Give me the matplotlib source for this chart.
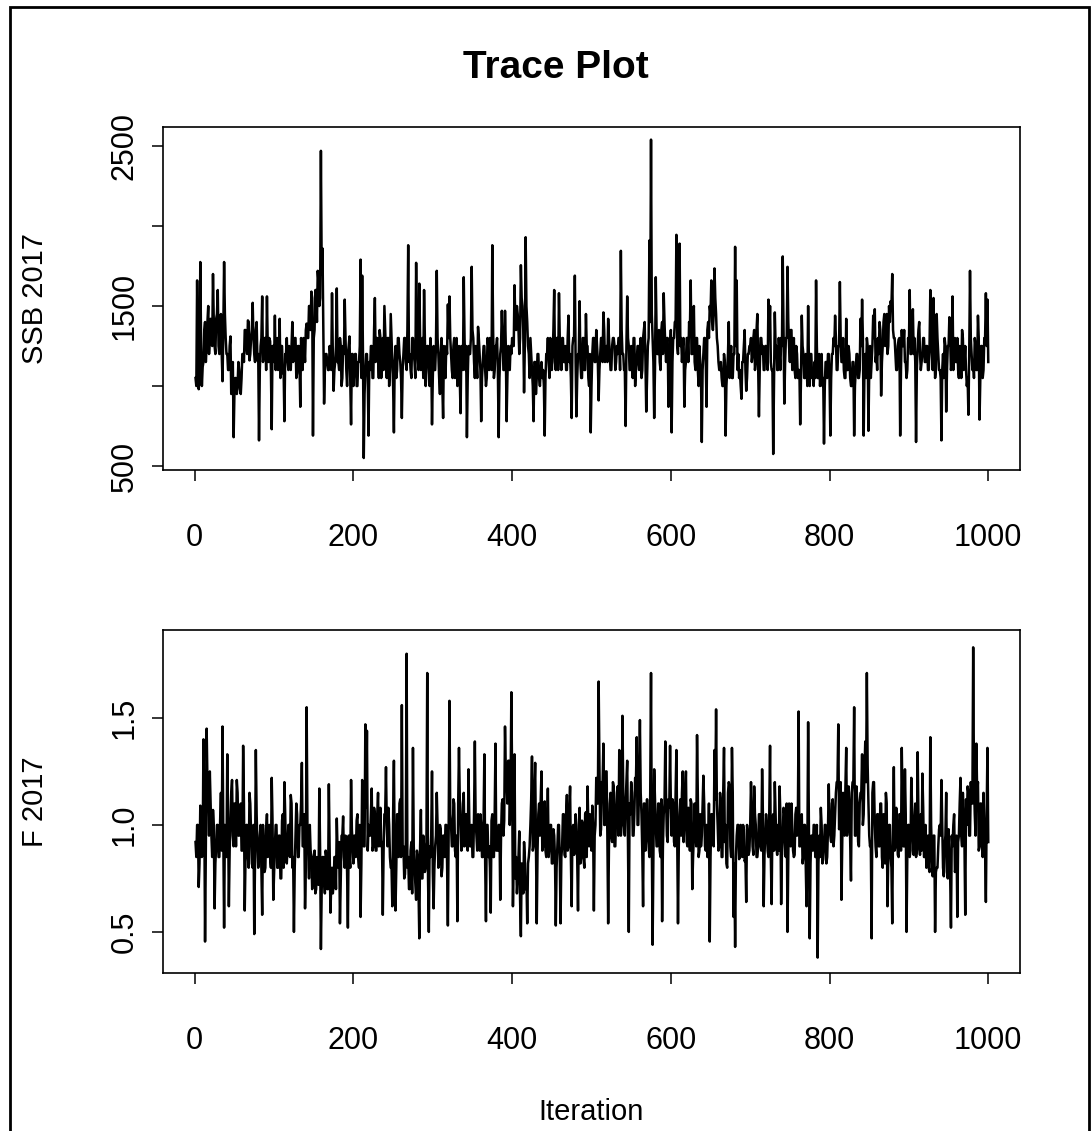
import numpy as np
import matplotlib
matplotlib.use("Agg")
import matplotlib.pyplot as plt
from matplotlib.patches import Rectangle

plt.rcParams['font.family'] = ['Liberation Sans', 'DejaVu Sans']

# Values: odd iterations (1, 3, ..., 999) carry the
# visible spikes, even iterations (2, 4, ..., 1000) the dense central band.
ssb_2017_odd = [
    1050, 1660, 980, 1775, 1000, 1150, 1400, 1250, 1500, 1300,
    1300, 1700, 1250, 1420, 1600, 1200, 1450, 1030, 1775, 1300,
    1200, 1100, 1310, 1000, 680, 1050, 950, 1150, 980, 1050,
    1200, 1350, 1250, 1410, 1160, 1300, 1520, 1200, 1350, 1160,
    660, 1250, 1560, 1200, 1300, 1560, 1150, 1280, 730, 1250,
    1440, 1200, 1100, 1420, 1250, 1080, 780, 1200, 1150, 1250,
    1100, 1400, 1200, 1300, 1080, 1250, 870, 1200, 1300, 1150,
    1390, 1300, 1500, 1590, 690, 1350, 1600, 1720, 1500, 2470,
    1860, 890, 1200, 1150, 1100, 1200, 1580, 970, 1150, 1610,
    1150, 1300, 1000, 1250, 1540, 1100, 1200, 1310, 760, 1200,
    1100, 1200, 1000, 1150, 1790, 1690, 550, 1100, 1200, 690,
    1100, 1250, 1050, 1550, 1300, 1200, 1350, 1050, 1300, 1500,
    1200, 1300, 1000, 1450, 1150, 710, 1250, 1100, 1300, 1150,
    800, 1200, 1300, 1100, 1880, 1200, 1050, 1300, 1150, 1770,
    1200, 1640, 1100, 1300, 1600, 1000, 1250, 1150, 1300, 760,
    1250, 1100, 1720, 1200, 950, 1300, 800, 1150, 1250, 1510,
    1560, 1200, 1050, 1300, 1150, 1000, 1250, 830, 1200, 1680,
    1100, 680, 1250, 1200, 1745, 1300, 1050, 1150, 1370, 1200,
    780, 1150, 1250, 1000, 1300, 1100, 1200, 1880, 1050, 1250,
    1300, 680, 1200, 1470, 1100, 1470, 780, 1250, 1100, 1200,
    1250, 1630, 1350, 1450, 1200, 1755, 1500, 960, 1930, 1400,
    1200, 1300, 1100, 780, 1150, 1050, 1200, 1000, 1150, 1100,
    690, 1200, 1300, 1050, 1250, 1200, 1600, 1100, 1300, 1580,
    1200, 1300, 1150, 1250, 1100, 1440, 1200, 800, 1300, 1690,
    810, 1200, 1530, 1050, 1300, 1100, 1450, 1250, 1000, 710,
    1200, 1300, 1150, 1250, 910, 1200, 1300, 1460, 1150, 1250,
    1420, 1200, 1100, 1300, 1250, 1150, 1200, 1300, 1845, 1200,
    1100, 750, 1560, 1250, 1100, 1200, 1300, 1000, 1150, 1250,
    1200, 1050, 1300, 1400, 840, 1250, 1910, 2540, 1300, 800,
    1680, 1200, 1350, 1100, 1400, 1580, 1250, 1300, 870, 1200,
    710, 1300, 1400, 1945, 1200, 1890, 1300, 1250, 870, 1150,
    1300, 1400, 1660, 1200, 1500, 1100, 1300, 1000, 1150, 650,
    1200, 1300, 870, 1400, 1500, 1660, 1350, 1735, 1450, 1250,
    1100, 1150, 1000, 1200, 690, 1100, 1400, 1150, 1050, 1200,
    1870, 1660, 1200, 1100, 920, 1150, 1350, 970, 1200, 1250,
    1300, 1200, 1350, 1150, 1450, 810, 1300, 1200, 1100, 1250,
    1200, 1540, 1500, 1100, 575, 1460, 1250, 1100, 1200, 1300,
    1810, 890, 1300, 1745, 1250, 1350, 1100, 1300, 1050, 1200,
    1100, 760, 1440, 1200, 1050, 1150, 1500, 1000, 1200, 1100,
    1150, 1660, 1050, 1200, 1100, 1000, 640, 1150, 1050, 1200,
    690, 1200, 1300, 1440, 1100, 1250, 1650, 1150, 1300, 1050,
    1420, 1100, 1200, 1000, 1150, 690, 1100, 1200, 1050, 1420,
    1540, 690, 1200, 1300, 720, 1250, 1150, 1440, 1480, 1200,
    1300, 1400, 940, 1250, 1450, 1350, 1200, 1500, 1530, 1700,
    1300, 1200, 1100, 1290, 690, 1350, 1250, 1150, 1050, 1300,
    1600, 1200, 1480, 1300, 650, 1250, 1400, 1100, 1200, 1300,
    1150, 1250, 1100, 1600, 1200, 1550, 1050, 1450, 1200, 1100,
    660, 1200, 1300, 840, 1250, 1430, 1100, 1560, 1200, 1150,
    1300, 1050, 1200, 1350, 1100, 1250, 1000, 820, 1720, 1200,
    1150, 1300, 1100, 1440, 790, 1250, 1050, 1300, 1580, 1540,
]

ssb_2017_even = [
    1000, 1150, 1050, 1250, 1120, 1350, 1150, 1400, 1200, 1420,
    1250, 1400, 1200, 1450, 1250, 1400, 1200, 1350, 1450, 1200,
    1100, 1250, 950, 1150, 950, 1050, 1000, 1100, 950, 1200,
    1150, 1350, 1200, 1400, 1200, 1350, 1300, 1150, 1400, 1200,
    1100, 1300, 1150, 1300, 1100, 1250, 1300, 1100, 1250, 1150,
    1100, 1300, 1150, 1050, 1250, 1100, 1200, 1300, 1100, 1200,
    1250, 1150, 1300, 1050, 1250, 1150, 1300, 1100, 1250, 1350,
    1300, 1500, 1350, 1550, 1300, 1600, 1400, 1650, 1550, 1700,
    1400, 1100, 1200, 1100, 1250, 1100, 1200, 1100, 1250, 1150,
    1100, 1250, 1050, 1200, 1300, 1000, 1250, 1050, 1200, 1000,
    1200, 1000, 1150, 1250, 1050, 1200, 950, 1200, 1050, 1150,
    1250, 1050, 1350, 1150, 1300, 1050, 1300, 1150, 1100, 1350,
    1050, 1300, 1100, 1300, 1000, 1150, 1050, 1300, 1200, 1050,
    1100, 1300, 1150, 1350, 1150, 1100, 1300, 1200, 1050, 1300,
    1100, 1300, 1150, 1050, 1300, 1100, 1250, 1000, 1200, 1050,
    1100, 1250, 1300, 1050, 1200, 1000, 1250, 1050, 1200, 1300,
    1300, 1100, 1250, 1050, 1300, 1100, 1050, 1250, 1100, 1300,
    1250, 1050, 1200, 1300, 1350, 1150, 1250, 1050, 1300, 1100,
    1050, 1250, 1100, 1050, 1250, 1300, 1100, 1350, 1100, 1250,
    1100, 1050, 1250, 1300, 1100, 1250, 1050, 1200, 1250, 1300,
    1250, 1400, 1500, 1350, 1300, 1550, 1350, 1250, 1500, 1250,
    1050, 1200, 1000, 1150, 950, 1200, 1050, 1100, 1050, 1000,
    1050, 1200, 1150, 1300, 1100, 1350, 1150, 1300, 1100, 1300,
    1100, 1300, 1150, 1100, 1300, 1150, 1050, 1250, 1300, 1150,
    1050, 1200, 1150, 1050, 1300, 1100, 1250, 1050, 1200, 1000,
    1300, 1150, 1350, 1150, 1100, 1300, 1150, 1350, 1200, 1150,
    1300, 1100, 1250, 1300, 1100, 1250, 1300, 1100, 1350, 1200,
    1100, 1250, 1300, 1100, 1250, 1050, 1300, 1100, 1250, 1100,
    1300, 1100, 1350, 1150, 1050, 1300, 1400, 1450, 1150, 1100,
    1350, 1200, 1150, 1350, 1200, 1400, 1150, 1300, 1100, 1350,
    1150, 1300, 1400, 1250, 1450, 1250, 1150, 1300, 1100, 1300,
    1150, 1350, 1200, 1400, 1150, 1300, 1100, 1250, 1050, 1100,
    1300, 1150, 1350, 1300, 1450, 1400, 1450, 1550, 1300, 1150,
    1100, 1050, 1000, 1150, 1000, 1200, 1050, 1250, 1050, 1200,
    1250, 1100, 1050, 1000, 1150, 1250, 1100, 1050, 1200, 1250,
    1150, 1300, 1100, 1350, 1150, 1100, 1300, 1250, 1100, 1250,
    1100, 1300, 1150, 1100, 1050, 1250, 1100, 1300, 1100, 1250,
    1350, 1150, 1300, 1400, 1150, 1350, 1150, 1100, 1250, 1050,
    1100, 1050, 1250, 1050, 1200, 1000, 1150, 1200, 1050, 1000,
    1050, 1250, 1050, 1000, 1200, 1050, 1000, 1150, 1200, 1050,
    1050, 1200, 1250, 1300, 1100, 1250, 1300, 1150, 1100, 1050,
    1100, 1250, 1050, 1000, 1150, 1000, 1200, 1050, 1100, 1250,
    1300, 1100, 1050, 1250, 1100, 1050, 1250, 1300, 1150, 1100,
    1200, 1350, 1150, 1400, 1250, 1450, 1250, 1400, 1500, 1350,
    1300, 1100, 1250, 1300, 1100, 1250, 1350, 1150, 1100, 1250,
    1200, 1350, 1200, 1150, 1100, 1350, 1200, 1150, 1300, 1150,
    1250, 1100, 1250, 1300, 1100, 1250, 1100, 1300, 1100, 1050,
    1100, 1050, 1250, 1100, 1250, 1300, 1150, 1100, 1300, 1150,
    1100, 1250, 1050, 1300, 1150, 1100, 1050, 1200, 1300, 1100,
    1050, 1250, 1100, 1300, 1050, 1250, 1100, 1300, 1250, 1150,
]

f_2017_odd = [
    0.92, 1.00, 0.71, 1.09, 0.85, 1.40, 0.455, 1.45, 1.15, 1.25,
    0.95, 1.07, 0.61, 0.90, 1.00, 0.85, 1.15, 1.46, 0.52, 0.95,
    1.33, 0.62, 1.00, 1.21, 0.90, 1.10, 1.21, 0.95, 1.05, 0.88,
    1.37, 0.60, 1.00, 0.85, 1.15, 0.95, 0.80, 0.49, 1.35, 0.90,
    0.85, 1.00, 0.58, 0.90, 0.80, 1.05, 0.95, 0.85, 1.22, 0.65,
    0.90, 1.00, 0.80, 0.95, 0.75, 1.05, 1.20, 0.85, 0.90, 1.00,
    1.14, 0.80, 0.50, 0.95, 1.05, 0.85, 1.00, 1.29, 0.90, 0.61,
    1.55, 0.90, 1.00, 0.85, 0.75, 0.88, 0.70, 0.80, 1.17, 0.42,
    0.85, 0.75, 0.88, 0.70, 1.19, 0.59, 0.80, 0.72, 0.85, 1.03,
    0.80, 0.54, 0.95, 1.04, 0.80, 0.90, 0.52, 0.85, 1.21, 0.90,
    0.95, 0.85, 1.05, 0.80, 0.57, 1.21, 0.90, 1.47, 1.44, 1.00,
    0.95, 1.17, 0.90, 1.05, 0.88, 1.15, 1.00, 0.90, 0.58, 1.05,
    1.27, 0.90, 1.00, 0.80, 0.62, 1.30, 0.60, 1.05, 0.85, 1.12,
    1.56, 0.90, 0.77, 1.80, 0.85, 0.70, 0.92, 1.36, 0.80, 0.65,
    0.85, 0.47, 1.07, 0.75, 0.90, 0.80, 1.71, 0.50, 0.85, 1.25,
    0.61, 0.90, 1.15, 0.80, 1.00, 0.76, 0.95, 0.85, 1.00, 0.53,
    1.58, 1.00, 0.90, 1.10, 0.85, 0.55, 1.36, 1.00, 0.90, 1.15,
    0.95, 1.05, 1.26, 0.90, 1.00, 0.85, 1.39, 0.95, 1.05, 0.88,
    1.00, 0.85, 1.33, 0.55, 1.00, 0.90, 0.59, 1.05, 0.85, 1.38,
    0.90, 1.00, 0.65, 1.10, 0.95, 1.46, 1.20, 1.30, 1.00, 1.62,
    0.62, 1.33, 0.85, 0.75, 0.97, 0.48, 0.80, 0.92, 0.70, 0.54,
    0.85, 1.00, 1.32, 0.90, 1.29, 0.54, 1.05, 0.95, 1.25, 0.90,
    1.11, 0.85, 1.17, 0.90, 1.00, 0.82, 0.95, 0.53, 0.90, 1.00,
    0.54, 0.90, 1.05, 0.85, 1.14, 0.90, 1.18, 0.62, 1.00, 0.88,
    0.95, 0.60, 1.08, 0.85, 1.00, 0.80, 1.06, 1.18, 0.90, 1.00,
    1.09, 0.60, 1.00, 1.10, 1.67, 0.95, 1.20, 1.38, 1.00, 1.25,
    0.54, 1.10, 0.95, 1.20, 0.90, 1.05, 1.18, 1.35, 0.95, 1.51,
    1.00, 1.10, 1.30, 0.50, 1.05, 1.15, 0.95, 1.22, 1.41, 1.00,
    1.49, 1.05, 0.62, 1.10, 0.95, 1.00, 0.85, 1.71, 0.44, 1.26,
    1.00, 0.90, 1.10, 0.85, 0.55, 1.05, 1.39, 0.95, 1.12, 1.37,
    0.95, 1.10, 0.90, 1.35, 0.54, 1.05, 0.95, 1.25, 1.00, 1.25,
    0.90, 1.05, 1.12, 0.70, 0.95, 1.00, 1.42, 0.85, 1.05, 0.95,
    1.23, 0.90, 1.00, 0.85, 0.455, 1.05, 0.95, 1.35, 1.54, 1.00,
    0.90, 1.10, 0.85, 1.36, 1.00, 0.80, 1.20, 0.90, 1.36, 0.57,
    0.43, 0.95, 1.00, 0.85, 0.90, 1.00, 0.83, 0.64, 0.95, 0.88,
    1.20, 0.90, 1.18, 1.00, 0.85, 1.05, 0.90, 1.26, 0.62, 0.95,
    1.00, 0.85, 1.37, 0.63, 1.05, 1.20, 0.90, 1.00, 1.18, 0.63,
    0.95, 1.05, 0.85, 0.50, 1.10, 0.90, 1.00, 0.85, 1.05, 0.95,
    1.53, 0.90, 1.05, 0.85, 1.00, 0.62, 1.48, 0.47, 0.95, 0.88,
    1.00, 0.85, 0.38, 0.95, 1.08, 0.82, 0.90, 1.00, 0.85, 1.19,
    0.95, 1.10, 0.90, 1.05, 1.20, 1.47, 1.00, 0.65, 1.15, 0.95,
    1.36, 1.00, 1.10, 0.74, 1.20, 1.55, 0.95, 1.10, 0.90, 1.15,
    1.33, 1.05, 1.39, 1.71, 1.10, 0.90, 0.47, 1.20, 1.00, 0.85,
    1.05, 0.90, 1.10, 0.80, 0.95, 1.15, 0.62, 1.00, 0.85, 0.54,
    1.27, 0.90, 1.00, 0.85, 1.05, 1.36, 0.90, 1.26, 0.50, 1.00,
    0.85, 1.22, 0.95, 1.00, 0.85, 1.34, 0.90, 1.05, 1.24, 0.85,
    1.00, 0.90, 0.80, 1.41, 0.85, 0.95, 0.50, 0.80, 0.90, 1.00,
    1.21, 0.80, 0.90, 1.15, 0.75, 0.85, 0.52, 0.90, 1.05, 0.80,
    0.57, 0.95, 1.22, 0.90, 1.05, 0.58, 1.00, 1.15, 0.95, 1.10,
    1.83, 1.05, 1.38, 1.20, 0.90, 1.10, 0.85, 1.00, 0.64, 1.36,
]

f_2017_even = [
    0.85, 1.00, 0.82, 1.02, 0.88, 1.10, 0.90, 1.20, 0.95, 1.10,
    0.85, 1.00, 0.82, 1.00, 0.85, 1.02, 0.88, 0.95, 1.00, 0.85,
    1.05, 0.88, 1.15, 0.95, 1.10, 0.90, 1.15, 0.95, 1.10, 0.88,
    1.10, 0.85, 1.00, 0.80, 1.10, 0.82, 1.00, 0.85, 1.05, 0.80,
    0.95, 0.80, 1.00, 0.78, 0.98, 0.85, 1.00, 0.80, 1.02, 0.78,
    1.00, 0.80, 0.95, 0.75, 1.02, 0.80, 1.05, 0.82, 1.00, 0.85,
    1.10, 0.85, 0.80, 1.10, 0.85, 1.00, 1.10, 0.90, 1.05, 0.80,
    1.00, 0.75, 0.88, 0.70, 0.85, 0.68, 0.85, 0.72, 0.88, 0.70,
    0.85, 0.68, 0.85, 0.70, 0.88, 0.72, 0.68, 0.85, 0.70, 0.88,
    0.92, 0.75, 0.95, 0.85, 0.95, 0.78, 0.95, 0.80, 0.98, 0.82,
    0.95, 1.02, 0.85, 1.00, 0.82, 1.05, 0.90, 1.08, 0.88, 0.98,
    1.05, 0.88, 1.08, 0.88, 1.05, 0.90, 1.08, 0.92, 0.88, 1.05,
    1.00, 1.08, 0.85, 0.80, 1.05, 0.85, 0.80, 1.05, 1.10, 0.85,
    0.90, 0.75, 0.92, 0.80, 0.70, 0.88, 0.68, 0.90, 0.72, 0.88,
    0.70, 0.90, 0.75, 0.95, 0.78, 0.92, 0.75, 0.90, 0.95, 0.78,
    0.80, 0.95, 1.00, 0.82, 0.98, 0.80, 0.95, 1.00, 0.82, 0.98,
    1.05, 0.90, 1.12, 0.88, 0.95, 1.10, 1.12, 0.88, 1.10, 0.90,
    1.05, 0.88, 1.02, 0.90, 0.85, 1.05, 1.02, 0.88, 1.00, 1.05,
    0.85, 1.02, 0.82, 1.00, 0.85, 0.80, 1.02, 0.85, 1.05, 0.88,
    0.88, 1.00, 0.95, 1.12, 1.02, 1.25, 1.10, 1.30, 1.15, 1.20,
    0.85, 0.75, 0.68, 0.85, 0.65, 0.82, 0.68, 0.85, 0.75, 0.82,
    0.90, 1.12, 0.88, 1.15, 0.92, 0.88, 1.10, 1.12, 0.88, 1.05,
    0.88, 0.98, 0.85, 1.00, 0.82, 0.98, 0.84, 0.80, 1.00, 0.85,
    0.85, 1.05, 0.86, 1.05, 0.88, 1.06, 0.85, 0.98, 0.86, 1.05,
    0.84, 1.00, 0.82, 1.02, 0.84, 1.05, 0.85, 1.00, 1.05, 0.88,
    1.00, 0.95, 1.22, 1.10, 1.28, 0.98, 1.20, 1.00, 1.25, 0.95,
    0.90, 1.15, 0.92, 1.18, 0.90, 1.15, 0.95, 1.18, 1.00, 1.15,
    0.95, 1.20, 0.92, 1.10, 1.20, 0.95, 1.05, 1.20, 1.00, 1.22,
    1.15, 0.88, 1.10, 0.88, 1.12, 0.90, 1.15, 0.92, 0.88, 1.12,
    0.90, 1.10, 0.88, 1.12, 0.90, 1.10, 1.12, 0.92, 1.08, 1.10,
    1.12, 0.92, 1.15, 0.95, 0.90, 1.12, 1.15, 0.92, 1.12, 0.92,
    1.08, 0.88, 1.10, 0.85, 1.10, 0.90, 1.12, 0.88, 0.90, 1.10,
    1.10, 0.88, 0.85, 1.10, 0.85, 1.05, 0.90, 1.12, 1.10, 0.88,
    1.15, 0.85, 1.15, 0.92, 0.82, 1.15, 1.18, 0.85, 1.15, 0.82,
    0.85, 1.00, 0.84, 1.00, 0.85, 0.98, 0.84, 1.00, 0.86, 1.00,
    1.05, 0.86, 1.05, 0.85, 0.90, 1.05, 0.88, 1.05, 0.86, 1.05,
    0.88, 1.05, 0.85, 1.02, 0.88, 1.05, 0.86, 0.88, 1.05, 0.88,
    1.08, 0.86, 1.10, 0.85, 1.05, 1.10, 0.88, 0.86, 1.08, 1.00,
    0.90, 1.00, 0.82, 1.00, 0.80, 0.85, 1.00, 0.82, 0.95, 1.00,
    0.85, 1.00, 0.82, 0.85, 1.00, 0.84, 1.00, 0.82, 0.98, 1.00,
    0.92, 1.12, 0.95, 1.15, 1.20, 0.98, 1.20, 0.92, 1.10, 1.18,
    0.95, 1.18, 0.92, 1.15, 1.20, 0.95, 1.18, 0.92, 1.10, 1.15,
    1.00, 1.25, 1.20, 1.28, 0.95, 0.92, 1.15, 1.20, 0.90, 1.05,
    0.90, 1.10, 0.85, 1.05, 0.82, 1.10, 0.85, 1.00, 0.80, 0.98,
    0.88, 1.08, 0.86, 1.05, 0.88, 1.10, 0.90, 1.05, 0.86, 1.00,
    0.88, 1.08, 0.86, 1.10, 0.88, 1.05, 0.86, 0.88, 1.08, 0.85,
    0.80, 0.95, 0.78, 1.00, 0.76, 0.95, 0.78, 0.80, 0.98, 0.95,
    1.00, 0.76, 0.95, 0.78, 0.98, 0.76, 0.95, 1.00, 0.78, 0.95,
    0.92, 1.10, 0.95, 1.15, 0.92, 1.12, 1.18, 0.95, 1.20, 1.10,
    1.20, 0.95, 1.15, 0.88, 1.10, 0.90, 1.15, 0.88, 1.05, 0.92,
]

x_ticks = [0, 200, 400, 600, 800, 1000]
ssb_ticks = [500, 1000, 1500, 2000, 2500]
ssb_ticklabels = ["500", "", "1500", "", "2500"]
f_ticks = [0.5, 1.0, 1.5]
f_ticklabels = ["0.5", "1.0", "1.5"]

# assemble full chains (iterations 1..1000) from the odd/even readings
iterations = np.arange(1, 1001)
ssb_2017 = np.empty(1000)
ssb_2017[0::2] = ssb_2017_odd
ssb_2017[1::2] = ssb_2017_even
f_2017 = np.empty(1000)
f_2017[0::2] = f_2017_odd
f_2017[1::2] = f_2017_even

W, H = 1091, 1131
fig = plt.figure(figsize=(W / 100, H / 100), dpi=100)
fig.patch.set_facecolor("white")

def fx(px):
    return px / W

def fy(py):
    return 1 - py / H

ax1 = fig.add_axes([fx(163), fy(470), fx(1020) - fx(163), fy(127) - fy(470)])
ax2 = fig.add_axes([fx(163), fy(973), fx(1020) - fx(163), fy(630) - fy(973)])

tick_fs = 22
label_fs = 21

for ax, y, ticks, tlabels, ylim in [
    (ax1, ssb_2017, ssb_ticks, ssb_ticklabels, (475, 2619)),
    (ax2, f_2017, f_ticks, f_ticklabels, (0.308, 1.911)),
]:
    ax.plot(iterations, y, color="black", linewidth=1.8)
    ax.set_xlim(-40, 1040)
    ax.set_ylim(*ylim)
    ax.set_xticks(x_ticks)
    ax.set_xticklabels([str(t) for t in x_ticks], fontsize=tick_fs)
    ax.set_yticks(ticks)
    ax.set_yticklabels(tlabels, fontsize=tick_fs, rotation=90, va="center")
    ax.tick_params(axis="x", direction="out", length=8, width=1.1, pad=30)
    ax.tick_params(axis="y", direction="out", length=8, width=1.1, pad=9)
    for s in ax.spines.values():
        s.set_linewidth(1.2)

fig.text(fx(35), (fy(127) + fy(470)) / 2, "SSB 2017", rotation=90,
         ha="center", va="center", fontsize=label_fs)
fig.text(fx(35), (fy(630) + fy(973)) / 2, "F 2017", rotation=90,
         ha="center", va="center", fontsize=label_fs)
fig.text(fx(556), fy(68), "Trace Plot", ha="center", va="center",
         fontsize=28, fontweight="bold")
fig.text(fx(591), fy(1112), "Iteration", ha="center", va="center",
         fontsize=label_fs)

border = Rectangle((fx(10), -0.02), fx(1089) - fx(10), fy(7) + 0.02,
                   transform=fig.transFigure, fill=False,
                   edgecolor="black", linewidth=2)
fig.patches.append(border)

fig.savefig("out.png", dpi=100, facecolor="white")
